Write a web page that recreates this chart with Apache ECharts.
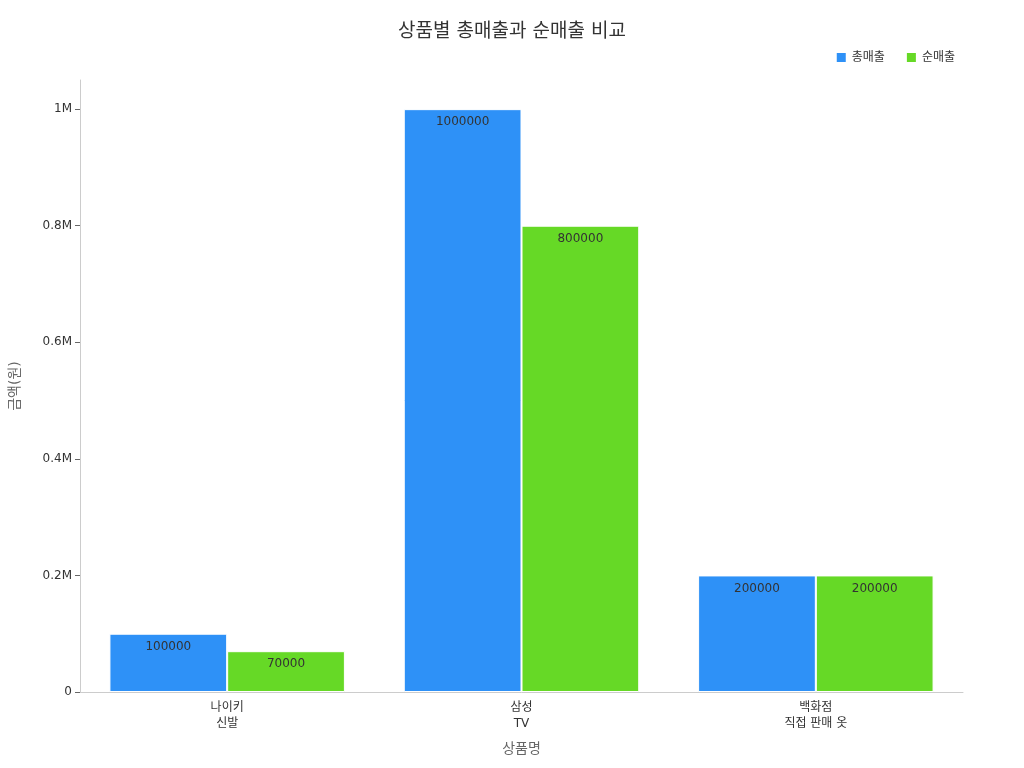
<!DOCTYPE html>
<html><head><meta charset="utf-8">
<script src="https://cdn.jsdelivr.net/npm/echarts@6/dist/echarts.min.js"></script>
<style>html,body{margin:0;padding:0;background:#fff}#c{width:1024px;height:768px}</style>
</head><body><div id="c"></div>
<script>
const categories = ['나이키\n신발', '삼성\nTV', '백화점\n직접 판매 옷'];
const grossSales = [100000, 1000000, 200000];
const netSales = [70000, 800000, 200000];
const yTicks = [0, 200000, 400000, 600000, 800000, 1000000];
const chart = echarts.init(document.getElementById('c'));
const font = '"DejaVu Sans", "Noto Sans CJK KR", sans-serif';
const lbl = {show:true, position:'insideTop', color:'#333', fontSize:12, fontFamily:font, offset:[0,2]};
chart.setOption({
  textStyle:{fontFamily:font},
  title:{text:'상품별 총매출과 순매출 비교', left:'center', top:18, textStyle:{fontSize:19, fontWeight:'normal', color:'#333', fontFamily:font}},
  legend:{top:46, right:64, icon:'rect', itemWidth:11, itemHeight:11, itemGap:20, textStyle:{fontSize:12, color:'#333', fontFamily:font}, data:['총매출','순매출']},
  grid:{left:75, right:61, top:80, bottom:76},
  xAxis:{type:'category', data:categories, name:'상품명', nameLocation:'middle', nameGap:50,
    nameTextStyle:{fontSize:14, color:'#666'},
    axisLine:{lineStyle:{color:'#ccc'}}, axisTick:{show:false},
    axisLabel:{color:'#333', fontSize:12, lineHeight:16}},
  yAxis:{type:'value', min:0, max:1050000, name:'금액(원)', nameLocation:'middle', nameGap:58,
    nameTextStyle:{fontSize:14, color:'#666'},
    axisLine:{show:true, lineStyle:{color:'#ccc'}},
    axisTick:{show:true, customValues:yTicks, lineStyle:{color:'#666'}},
    splitLine:{show:false},
    axisLabel:{color:'#333', fontSize:12, customValues:yTicks, formatter:v=> v===0?'0':(v/1000000)+'M'}},
  series:[
    {name:'총매출', type:'bar', data:grossSales, barWidth:'40%', barGap:'0%', itemStyle:{color:'#2e91f7', borderColor:'#fff', borderWidth:1}, label:lbl},
    {name:'순매출', type:'bar', data:netSales, barWidth:'40%', itemStyle:{color:'#66d926', borderColor:'#fff', borderWidth:1}, label:lbl}
  ]
});
</script></body></html>
